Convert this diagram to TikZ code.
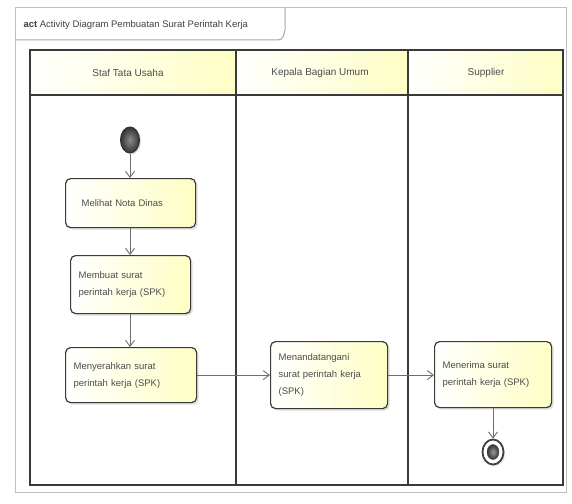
\documentclass[tikz,border=0pt]{standalone}
\usepackage{fontspec}
\setmainfont{Liberation Sans}
\usetikzlibrary{arrows.meta,shadows,shapes.geometric}
\definecolor{umlyellow}{HTML}{FEFEC4}
\definecolor{umlborder}{HTML}{3A3A3A}
\definecolor{flow}{HTML}{6E6E6E}
\tikzset{
  lanehead/.style={draw=umlborder, line width=1.3pt, left color=white, right color=umlyellow},
  lanebody/.style={draw=umlborder, line width=1.3pt},
  action/.style={draw=umlborder, line width=1.2pt, rounded corners=5pt,
    left color=white, right color=umlyellow,
    drop shadow={shadow xshift=2pt, shadow yshift=-2pt, opacity=0.25},
    font=\fontsize{9.5}{17}\selectfont, align=left, anchor=north west,
    inner xsep=8pt, inner ysep=0pt, text=black!70},
  flowline/.style={draw=flow, line width=0.9pt, -{Straight Barb[length=6pt,width=9pt]}},
  lanetitle/.style={font=\fontsize{10}{12}\selectfont, text=black!70},
}
\begin{document}
\begin{tikzpicture}[x=1pt,y=-1pt]
\useasboundingbox (0,0) rectangle (572,503);
\fill[white] (0,0) rectangle (572,503);
% outer diagram frame with name tab
\draw[black!25, line width=1pt] (15,8) rectangle (566,492);
\draw[black!35, line width=1pt] (15,40) -- (278,40) to[out=0,in=-100] (285,30) -- (285,8);
\node[anchor=west, font=\fontsize{9.5}{11}\selectfont, text=black!75] (title) at (20,25)
  {\textbf{act} Activity Diagram Pembuatan Surat Perintah Kerja};
% swimlane headers
\draw[lanehead] (30,50) rectangle (236,95);
\draw[lanehead] (236,50) rectangle (408,95);
\draw[lanehead] (408,50) rectangle (563,95);
\node[lanetitle] (l1) at (128,73) {Staf Tata Usaha};
\node[lanetitle] (l2) at (320,73) {Kepala Bagian Umum};
\node[lanetitle] (l3) at (486,73) {Supplier};
% swimlane bodies
\draw[lanebody] (30,95) rectangle (236,485);
\draw[lanebody] (236,95) rectangle (408,485);
\draw[lanebody] (408,95) rectangle (563,485);
% initial node
\node[ellipse, minimum width=19pt, minimum height=26pt, inner sep=0pt,
  draw=black!80, line width=1pt, inner color=black!45, outer color=black!80,
  drop shadow={shadow xshift=1.5pt, shadow yshift=-1.5pt, opacity=0.25}] (start) at (130,140) {};
% actions
\node[action, text width=98pt, minimum height=49pt, inner xsep=16pt] (a1) at (65,178)
  {Melihat Nota Dinas};
\node[action, text width=104pt, minimum height=58pt] (a2) at (70,255)
  {Membuat surat\\perintah kerja (SPK)};
\node[action, text width=115pt, minimum height=55pt] (a3) at (65,347)
  {Menyerahkan surat\\perintah kerja (SPK)};
\node[action, text width=101pt, minimum height=67pt] (a4) at (270,341)
  {Menandatangani\\surat perintah kerja\\(SPK)};
\node[action, text width=101pt, minimum height=66pt] (a5) at (434,341)
  {Menerima surat\\perintah kerja (SPK)};
% final node
\node[ellipse, minimum width=21pt, minimum height=25pt, inner sep=0pt,
  draw=black!75, line width=1.8pt, fill=white,
  drop shadow={shadow xshift=1.5pt, shadow yshift=-1.5pt, opacity=0.25}] (end) at (493,452) {};
\node[ellipse, minimum width=12pt, minimum height=15pt, inner sep=0pt,
  draw=black!70, inner color=black!40, outer color=black!80] (endcore) at (493,452) {};
% control flows
\draw[flowline] (start) -- (a1.north -| start);
\draw[flowline] (a1.south -| start) -- (a2.north -| start);
\draw[flowline] (a2.south -| start) -- (a3.north -| start);
\draw[flowline] (a3.east) -- (a3.east -| a4.west);
\draw[flowline] (a3.east -| a4.east) -- (a3.east -| a5.west);
\draw[flowline] (a5.south -| end) -- (end);
\end{tikzpicture}
\end{document}
